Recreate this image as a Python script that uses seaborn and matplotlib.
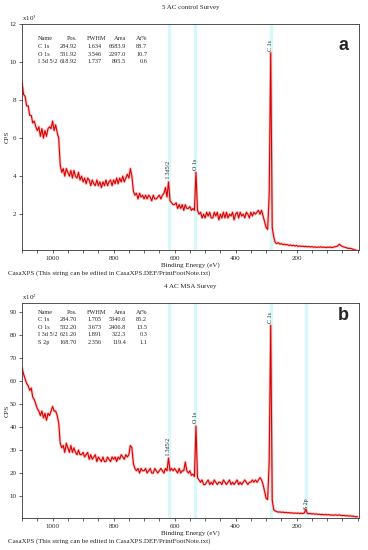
import numpy as np
import pandas as pd
import seaborn as sns
import matplotlib.pyplot as plt
from matplotlib.ticker import MultipleLocator

# binding energy sampling of both survey scans (5 eV steps, 1100 -> 0)
binding_energy = np.arange(1100, -1, -5)

# 5 AC control survey, CPS x10^3 (one row = 50 eV)
cps_control = [
    8.9, 8.3, 8.2, 7.7, 7.7, 7.2, 7.2, 6.8, 6.9, 6.6,   # 1100
    6.4, 6.6, 6.1, 6.5, 6.0, 6.4, 6.1, 6.5, 6.6, 6.5,   # 1050
    6.9, 6.4, 6.7, 6.3, 6.0, 4.6, 4.2, 4.4, 4.0, 4.4,   # 1000
    4.2, 4.0, 4.3, 3.9, 4.3, 4.0, 3.9, 4.2, 3.8, 4.0,   # 950
    3.7, 3.9, 3.6, 3.9, 3.8, 3.5, 3.8, 3.6, 3.5, 3.8,   # 900
    3.5, 3.7, 3.4, 3.7, 3.5, 3.8, 3.5, 3.7, 3.8, 3.5,   # 850
    3.8, 3.6, 3.9, 3.6, 3.9, 3.7, 4.0, 3.7, 3.9, 4.1,   # 800
    3.9, 4.4, 4.0, 3.2, 3.0, 3.1, 2.8, 3.1, 2.9, 3.0,   # 750
    2.8, 3.0, 2.8, 3.0, 2.9, 2.7, 3.0, 2.8, 2.8, 2.9,   # 700
    3.0, 2.8, 3.0, 3.1, 3.4, 2.9, 3.7, 2.7, 2.6, 2.5,   # 650
    2.5, 2.6, 2.3, 2.5, 2.3, 2.5, 2.2, 2.5, 2.3, 2.3,   # 600
    2.4, 2.2, 2.3, 2.2, 4.2, 2.2, 2.0, 2.1, 1.8, 2.0,   # 550
    1.8, 2.1, 1.9, 2.1, 1.8, 1.8, 2.1, 1.9, 2.1, 1.7,   # 500
    2.0, 1.8, 2.1, 1.8, 2.1, 1.8, 2.0, 1.9, 2.1, 1.7,   # 450
    2.0, 2.1, 1.8, 2.1, 1.9, 2.0, 1.8, 2.1, 2.0, 1.8,   # 400
    2.1, 1.9, 2.1, 2.0, 2.1, 2.2, 2.0, 2.2, 1.9, 1.6,   # 350
    1.3, 1.2, 3.0, 10.5, 1.3, 0.8, 0.5, 0.45, 0.5, 0.42,  # 300
    0.45, 0.4, 0.42, 0.38, 0.4, 0.35, 0.38, 0.34, 0.36, 0.32,  # 250
    0.35, 0.3, 0.33, 0.3, 0.32, 0.29, 0.31, 0.28, 0.3, 0.27,  # 200
    0.29, 0.26, 0.28, 0.25, 0.27, 0.26, 0.28, 0.25, 0.27, 0.24,  # 150
    0.26, 0.25, 0.27, 0.24, 0.26, 0.28, 0.3, 0.33, 0.42, 0.35,  # 100
    0.3, 0.27, 0.25, 0.22, 0.2, 0.2, 0.18, 0.15, 0.12, 0.1,  # 50
    0.08,                                                 # 0
]

# 4 AC MSA survey, CPS x10^2
cps_msa = [
    65.7, 63, 61, 59, 58, 56, 57, 53, 52, 50,            # 1100
    48, 47, 45, 47, 44, 46, 43, 46, 45, 47,              # 1050
    49, 47, 47, 45, 42, 33, 31, 32, 29, 33,              # 1000
    31, 29, 32, 29, 31, 29, 28, 30, 28, 28,              # 950
    29, 27, 28, 29, 26, 28, 26, 27, 28, 25,              # 900
    27, 26, 25, 27, 25, 25, 27, 26, 25, 27,              # 850
    26, 27, 25, 27, 26, 28, 27, 26, 28, 27,              # 800
    28, 32, 31, 24, 22, 21, 22, 20, 22, 21,              # 750
    21, 22, 20, 21, 22, 20, 20, 22, 21, 20,              # 700
    21, 22, 21, 20, 22, 21, 26.5, 21, 22, 21,            # 650
    22, 21, 20, 22, 20, 21, 21, 24.8, 21, 20,            # 600
    21, 19, 19.5, 18.5, 40.4, 18, 17, 16, 17, 15,        # 550
    15, 16, 17, 15, 16, 15, 17, 16, 15, 16,              # 500
    16, 15, 17, 16, 15, 16, 17, 15, 16, 15,              # 450
    16, 17, 15, 16, 15, 16, 17, 16, 15, 16,              # 400
    16, 17, 16, 17, 16, 17, 18, 17, 15, 12,              # 350
    9, 8.5, 25, 84.3, 8.3, 4, 3.5, 3.2, 3, 3.1,          # 300
    2.9, 3, 2.8, 2.9, 2.7, 2.8, 2.6, 2.7, 2.5, 2.6,      # 250
    2.5, 2.6, 2.4, 2.5, 2.4, 2.6, 4.2, 2.5, 2.3, 2.4,    # 200
    2.2, 2.3, 2.1, 2.2, 2.0, 2.1, 1.9, 2.0, 1.8, 2.0,    # 150
    1.8, 1.9, 1.7, 1.8, 1.6, 1.8, 1.7, 1.6, 1.8, 1.6,    # 100
    1.5, 1.6, 1.4, 1.5, 1.3, 1.4, 1.2, 1.3, 1.1, 1.0,    # 50
    1.0,                                                 # 0
]

# peak labels
peak_names_control = ["C 1s", "O 1s", "I 3d5/2"]
peak_pos_control = [285, 532, 619]
peak_top_control = [10.6, 4.3, 3.9]

peak_names_msa = ["C 1s", "O 1s", "I 3d5/2", "S 2p"]
peak_pos_msa = [285, 532, 619, 169]
peak_top_msa = [85.3, 41.6, 27.8, 4.4]

# quantification tables
quant_header = ["Name", "Pos.", "FWHM", "Area", "At%"]
quant_control = [
    ["C 1s", "284.92", "1.634", "6683.9", "88.7"],
    ["O 1s", "531.92", "3.546", "2297.0", "10.7"],
    ["I 3d 5/2", "618.92", "1.737", "895.5", "0.6"],
]
quant_msa = [
    ["C 1s", "284.70", "1.705", "5340.6", "85.2"],
    ["O 1s", "532.20", "3.673", "2406.8", "13.5"],
    ["I 3d 5/2", "621.20", "1.891", "322.3", "0.3"],
    ["S 2p", "168.70", "2.356", "119.4", "1.1"],
]

sns.set_style("white")
plt.rcParams['font.family'] = ['Liberation Serif', 'DejaVu Serif']
plt.rcParams['mathtext.fontset'] = 'stix'

fig = plt.figure(figsize=(3.68, 5.5), dpi=100)
ax_a = fig.add_axes([0.060, 0.545, 0.916, 0.411])
ax_b = fig.add_axes([0.060, 0.058, 0.916, 0.391])

panels = [
    (ax_a, cps_control, "5 AC control Survey", "3", peak_names_control, peak_pos_control,
     peak_top_control, quant_control, (0.1, 12), np.arange(2, 13, 2), "a", 0.034),
    (ax_b, cps_msa, "4 AC MSA Survey", "2", peak_names_msa, peak_pos_msa,
     peak_top_msa, quant_msa, (0.4, 94), np.arange(10, 91, 10), "b", 0.035),
]

fs = 5
for ax, cps, title, expo, names, pos, tops, table, ylim, yticks, letter, step in panels:
    df = pd.DataFrame({"be": binding_energy, "cps": cps})
    for p in pos:
        ax.axvline(p, color="#d8f7fb", lw=2.4, zorder=0)
    # soft halo under the trace, like the noisy band in the scan
    sns.lineplot(data=df, x="be", y="cps", ax=ax, color="#f08080", lw=2.0, alpha=0.45, zorder=1)
    sns.lineplot(data=df, x="be", y="cps", ax=ax, color="#dd0000", lw=0.8, zorder=2)

    ax.set_xlim(1100, -5)
    ax.set_ylim(*ylim)
    ax.set_xticks([1000, 800, 600, 400, 200])
    ax.xaxis.set_minor_locator(MultipleLocator(50))
    ax.set_yticks(yticks)
    ax.tick_params(axis="both", which="both", direction="out", length=2.5, width=0.5,
                   labelsize=fs, pad=1.5, bottom=True, left=True)
    for sp in ax.spines.values():
        sp.set_linewidth(0.6)
        sp.set_color("#333333")

    ax.set_xlabel("Binding Energy (eV)", fontsize=fs, labelpad=1)
    ax.set_ylabel("CPS", fontsize=fs, labelpad=0)
    ax.set_title(title, fontsize=fs, pad=11)
    ax.text(0.0, 1.005, r"x10$^{%s}$" % expo, transform=ax.transAxes, fontsize=fs,
            ha="left", va="bottom")

    for name, p, t in zip(names, pos, tops):
        ax.text(p, t, name, rotation=90, fontsize=4.3, ha="center", va="bottom")

    # quantification table
    col_x = [0.047, 0.163, 0.237, 0.309, 0.371]
    head_x = [0.047, 0.163, 0.249, 0.309, 0.371]
    y0 = 0.935 if letter == "a" else 0.958
    tfs = 4.5
    for j, h in enumerate(quant_header):
        ax.text(head_x[j], y0, h, transform=ax.transAxes, fontsize=tfs,
                ha="left" if j == 0 else "right", va="center")
    for i, row in enumerate(table):
        for j, v in enumerate(row):
            ax.text(col_x[j], y0 - step * (i + 1), v, transform=ax.transAxes, fontsize=tfs,
                    ha="left" if j == 0 else "right", va="center")

    ax.text(0.953, 0.905 if letter == "a" else 0.944, letter, transform=ax.transAxes,
            fontsize=13, fontweight="bold", family="Liberation Sans", ha="center", va="center")

    fig.text(0.022, ax.get_position().y0 - 0.042,
             "CasaXPS (This string can be edited in CasaXPS.DEF/PrintFootNote.txt)",
             fontsize=fs, ha="left", va="center")

fig.savefig("out.png", dpi=100)
